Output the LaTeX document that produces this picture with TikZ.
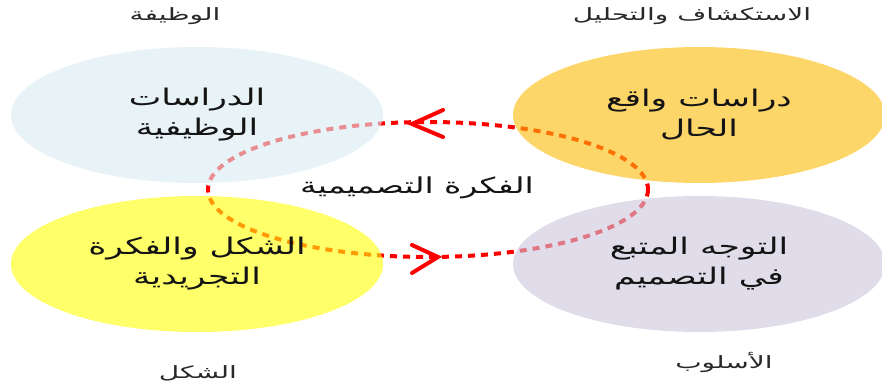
\documentclass[tikz,border=0pt]{standalone}
\usepackage{fontspec}
\newfontfamily\arabicfont[Script=Arabic,FakeStretch=1.5]{DejaVu Sans}
\newfontfamily\arabiclabel[Script=Arabic,FakeStretch=1.65]{DejaVu Sans}
\TeXXeTstate=1
\usetikzlibrary{shapes.geometric}
\newcommand\AR[1]{\beginR #1\endR}
\definecolor{blueF}{RGB}{217,235,243}
\definecolor{goldF}{RGB}{251,187,7}
\definecolor{yellowF}{RGB}{255,255,7}
\definecolor{lavF}{RGB}{203,197,220}
\definecolor{loopred}{RGB}{255,0,0}
\definecolor{txt}{RGB}{20,20,20}
\definecolor{lbl}{RGB}{40,40,40}
\begin{document}
\begin{tikzpicture}[x=1pt,y=-1pt,
  blob/.style={ellipse, minimum width=372pt, minimum height=136pt, inner sep=0pt,
    fill opacity=0.6, text opacity=1, align=center, text=txt,
    font=\arabicfont\fontsize{23}{30}\selectfont},
  toplabel/.style={font=\arabiclabel\fontsize{17}{20}\selectfont, text=lbl, inner sep=0pt},
  dashloop/.style={loopred, line width=4pt, dash pattern=on 7pt off 6pt},
  chevron/.style={loopred, line width=4pt, line cap=round, line join=miter}
]
\useasboundingbox (0,0) rectangle (882,390);

% dashed loop
\coordinate (loopc) at (428,189.5);
\draw[dashloop] (loopc) ellipse [x radius=220, y radius=67.5];

% ellipses
\node[blob, fill=blueF]   (func)  at (197,115) {\AR{الدراسات}\\\AR{الوظيفية}};
\node[blob, fill=goldF]   (real)  at (699,115) {\AR{دراسات واقع}\\\AR{الحال}};
\node[blob, fill=yellowF] (shape) at (197,264) {\AR{الشكل والفكرة}\\\AR{التجريدية}};
\node[blob, fill=lavF]    (style) at (699,264) {\AR{التوجه المتبع}\\\AR{في التصميم}};

% centre label
\node[font=\arabicfont\fontsize{22}{26}\selectfont, text=txt, inner sep=0pt] (idea) at (417,188) {\AR{الفكرة التصميمية}};

% arrow chevrons
\coordinate (ttip) at (412,124);
\coordinate (ta) at (443,110);
\coordinate (tb) at (443,137);
\draw[chevron] (ta) -- (ttip) -- (tb);
\coordinate (btip) at (438,257);
\coordinate (ba) at (412,245);
\coordinate (bb) at (412,273);
\draw[chevron] (ba) -- (btip) -- (bb);

% corner labels
\node[toplabel] (lfunc)  at (175,16)  {\AR{الوظيفة}};
\node[toplabel] (lreal)  at (692,16)  {\AR{الاستكشاف والتحليل}};
\node[toplabel] (lshape) at (198,373) {\AR{الشكل}};
\node[toplabel] (lstyle) at (724,362) {\AR{الأسلوب}};
\end{tikzpicture}
\end{document}
